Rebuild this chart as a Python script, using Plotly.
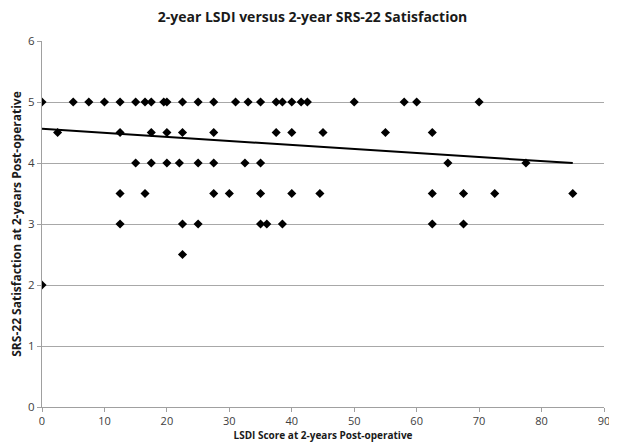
import plotly.graph_objects as go

# LSDI scores grouped by SRS-22 satisfaction value
lsdi_5_0 = [0, 5, 7.5, 10, 12.5, 15, 16.5, 17.5, 19.5, 20, 22.5, 25, 27.5, 31, 33, 35,
            37.5, 38.5, 40, 41.5, 42.5, 50, 58, 60, 70]
lsdi_4_5 = [2.5, 12.5, 17.5, 20, 22.5, 27.5, 37.5, 40, 45, 55, 62.5]
lsdi_4_0 = [15, 17.5, 20, 22, 25, 27.5, 32.5, 35, 65, 77.5]
lsdi_3_5 = [12.5, 16.5, 27.5, 30, 35, 40, 44.5, 62.5, 67.5, 72.5, 85]
lsdi_3_0 = [12.5, 22.5, 25, 35, 36, 38.5, 62.5, 67.5]
lsdi_2_5 = [22.5]
lsdi_2_0 = [0]

groups = [(5.0, lsdi_5_0), (4.5, lsdi_4_5), (4.0, lsdi_4_0), (3.5, lsdi_3_5),
          (3.0, lsdi_3_0), (2.5, lsdi_2_5), (2.0, lsdi_2_0)]

# linear trend line
trend_intercept = 4.56
trend_slope = -0.0066

x_ticks = [0, 10, 20, 30, 40, 50, 60, 70, 80, 90]
y_ticks = [0, 1, 2, 3, 4, 5, 6]

x_vals = []
y_vals = []
for sat, xs in groups:
    x_vals += xs
    y_vals += [sat] * len(xs)

trend_x = [min(x_vals), max(x_vals)]
trend_y = [trend_intercept + trend_slope * v for v in trend_x]

fig = go.Figure()
fig.add_trace(go.Scatter(x=trend_x, y=trend_y, mode="lines",
                         line=dict(color="black", width=2), showlegend=False))
fig.add_trace(go.Scatter(x=x_vals, y=y_vals, mode="markers",
                         marker=dict(symbol="diamond", size=7, color="black"),
                         showlegend=False, hoverinfo="x+y"))

# the page body adds an 8px margin, so the figure is sized to fit the window
W, H = 609, 437
font = "Open Sans"
fig.update_layout(
    width=W, height=H,
    margin=dict(l=34, r=7, t=33, b=38),
    paper_bgcolor="white", plot_bgcolor="white",
    title=dict(text="<b>2-year LSDI versus 2-year SRS-22 Satisfaction</b>",
               x=0.5, xref="container", xanchor="center",
               y=1 - 9 / H, yref="container", yanchor="middle",
               font=dict(family=font, size=14, color="#1a1a1a")),
    font=dict(family=font, size=11, color="#404040"),
)
fig.update_xaxes(range=[0, 90], tickvals=x_ticks, showgrid=False,
                 showline=True, linecolor="#a0a0a0", linewidth=1,
                 ticks="outside", ticklen=4, tickcolor="#a0a0a0",
                 zeroline=False, ticklabeloverflow="allow",
                 title=dict(text="<b>LSDI Score at 2-years Post-operative</b>",
                            font=dict(size=10, color="#1a1a1a"), standoff=2),
                 tickfont=dict(size=11, color="#404040"))
fig.update_yaxes(range=[0, 6], tickvals=y_ticks, showgrid=True,
                 gridcolor="#a8a8a8", gridwidth=1,
                 showline=True, linecolor="#a0a0a0", linewidth=1,
                 ticks="outside", ticklen=4, tickcolor="#a0a0a0",
                 zeroline=False,
                 title=dict(text="<b>SRS-22 Satisfaction at 2-years Post-operative</b>",
                            font=dict(size=12, color="#1a1a1a"), standoff=4),
                 tickfont=dict(size=11.5, color="#404040"))

fig.write_html("out.html")
